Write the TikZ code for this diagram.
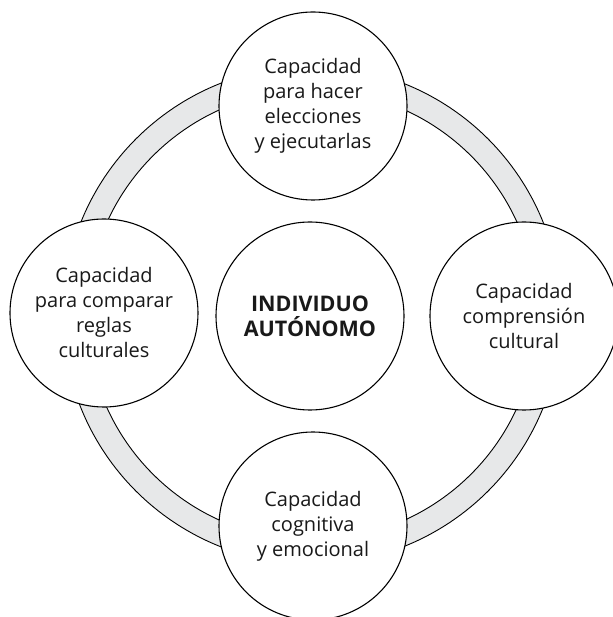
\documentclass[tikz,border=0pt]{standalone}
\usepackage{fontspec}
\setmainfont{Open Sans}
\usetikzlibrary{positioning}
\definecolor{ringgray}{RGB}{231,232,233}
\definecolor{txtgray}{RGB}{25,25,25}

\begin{document}
\begin{tikzpicture}[x=1pt,y=1pt]
\tikzstyle{capnode}=[draw=black,line width=1.1pt,fill=white,circle,minimum size=188pt,inner sep=0pt,align=center,text=txtgray,font=\fontsize{20}{25}\selectfont]
\useasboundingbox (-312,-302) rectangle (300,315);
\fill [ringgray,even odd rule] (0,0) circle (249pt) (0,0) circle (225pt);
\draw [black,line width=0.9pt] (0,0) circle (249pt) (0,0) circle (225pt);
\node [capnode] (top) at (1,209) {Capacidad\\para hacer\\elecciones\\y ejecutarlas};
\node [capnode] (left) at (-208,2) {Capacidad\\para comparar\\reglas\\culturales};
\node [capnode] (right) at (212,-1) {Capacidad\\comprensión\\cultural};
\node [capnode] (bottom) at (1,-211) {Capacidad\\cognitiva\\y emocional};
\node [capnode,font=\fontsize{21.5}{25}\selectfont\bfseries] (mid) at (-2,-1) {INDIVIDUO\\AUTÓNOMO};
\end{tikzpicture}
\end{document}
